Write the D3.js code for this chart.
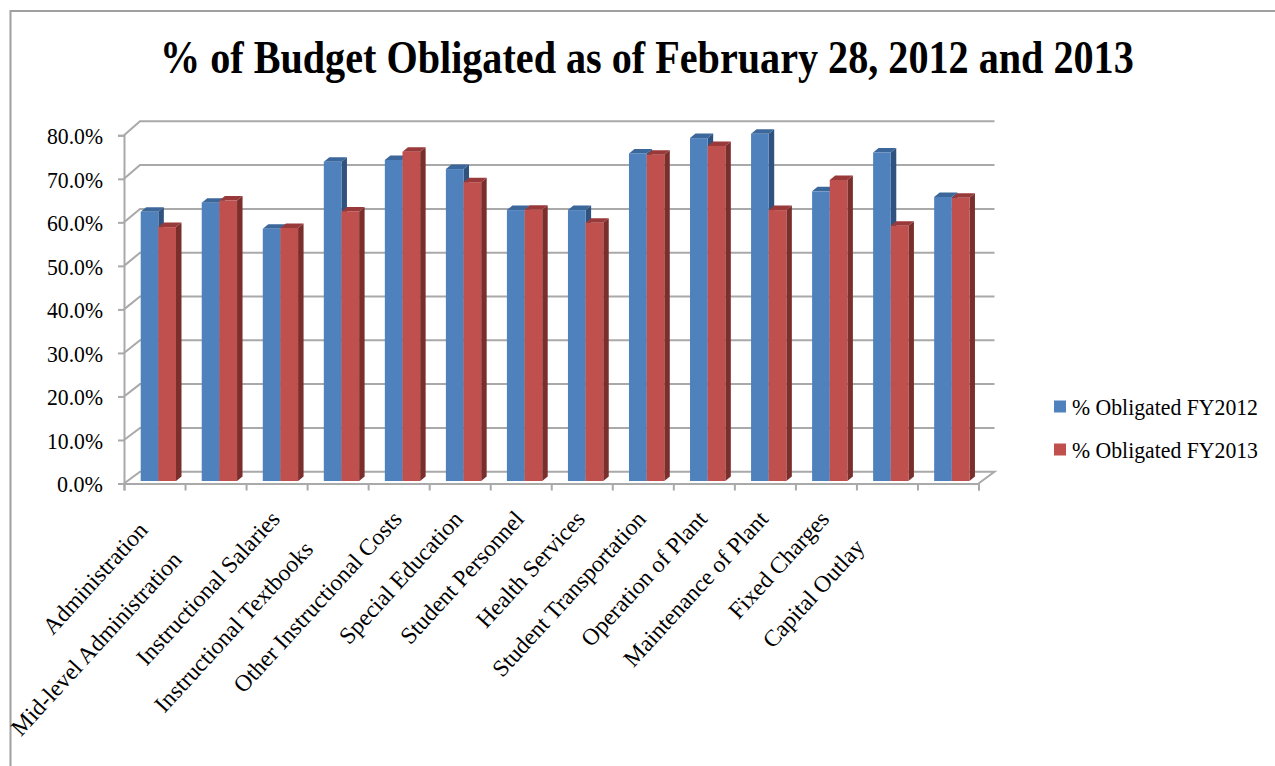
<!DOCTYPE html>
<html>
<head>
<meta charset="utf-8">
<script src="https://cdn.jsdelivr.net/npm/d3@7/dist/d3.min.js"></script>
<style>
  html, body { margin: 0; padding: 0; background: #fff; }
  svg { display: block; }
  text { font-family: "Liberation Serif", "Times New Roman", serif; fill: #000; }
</style>
</head>
<body>
<svg id="chart" width="1275" height="766"></svg>
<script>
const chartTitle = "% of Budget Obligated as of February 28, 2012 and 2013";
const categories = [
  "Administration", "Mid-level Administration", "Instructional Salaries",
  "Instructional Textbooks", "Other Instructional Costs", "Special Education",
  "Student Personnel", "Health Services", "Student Transportation",
  "Operation of Plant", "Maintenance of Plant", "Fixed Charges",
  "Capital Outlay", ""
];
const seriesNames = ["% Obligated FY2012", "% Obligated FY2013"];
const obligated2012 = [61.7, 63.8, 57.8, 73.2, 73.6, 71.5, 62.1, 62.1, 75.1, 78.6, 79.6, 66.4, 75.3, 65.1];
const obligated2013 = [58.2, 64.3, 58.0, 61.8, 75.5, 68.5, 62.2, 59.2, 74.8, 76.8, 62.1, 69.0, 58.5, 64.9];
const yTicks = [0, 10, 20, 30, 40, 50, 60, 70, 80];

// Colours of each series: front face, top face, side face
const faces = [
  { front: "#4f81bd", top: "#3c679b", side: "#30527f" },
  { front: "#c0504d", top: "#99393a", side: "#7a2f2d" }
];
const gridColor = "#a9a9a9";

const svg = d3.select("#chart");

// Outer chart frame, open at the window's right and bottom edges
svg.append("path")
  .attr("d", "M10.5,766V11H1275")
  .attr("fill", "none").attr("stroke", "#a0a0a0").attr("stroke-width", 2);

// Title is set tall and condensed horizontally
const titleNode = svg.append("text")
  .attr("font-size", 47).attr("font-weight", "bold")
  .text(chartTitle);
const titleWidth = titleNode.node().getComputedTextLength();
titleNode.attr("transform", `translate(160,72.5) scale(${974 / titleWidth},1)`);

// Pseudo-3D layout: the front plane holds the axes, the back plane holds the gridlines
const left = 124, right = 978.5;
const depthX = 16;
const yFront = d3.scaleLinear().domain([0, 80]).range([483.5, 135.3]);
const yBack = d3.scaleLinear().domain([0, 80]).range([471.7, 121.3]);
const yBar = d3.scaleLinear().domain([0, 80]).range([481, 132]);
const xBand = d3.scaleBand().domain(d3.range(categories.length)).range([left, right]);
const xEdge = d3.scaleLinear().domain([0, categories.length]).range([left, right]);
const xSeries = d3.scaleBand().domain([0, 1]).range([16.7, 52]);
const barDepthX = 5.5, barDepthY = 4.5;

const grid = svg.append("g").attr("fill", "none").attr("stroke", gridColor).attr("stroke-width", 2);
grid.selectAll("path.grid").data(yTicks).join("path")
  .attr("class", "grid")
  .attr("d", d => d === 0
    ? `M${left},${yFront(d)}L${left + depthX},${yBack(d)}H${right + depthX}L${right},${yFront(d)}`
    : `M${left},${yFront(d)}L${left + depthX},${yBack(d)}H${right + depthX}`);

// Axes are drawn along the front edge of the floor
const yAxis = svg.append("g")
  .attr("transform", `translate(${left},0)`)
  .call(d3.axisLeft(yFront).tickValues(yTicks).tickSize(6).tickPadding(15)
    .tickFormat(d => d3.format(".1f")(d) + "%"));
yAxis.attr("font-family", null);
yAxis.selectAll("path, line").attr("stroke", gridColor).attr("stroke-width", 2);
yAxis.selectAll("text")
  .attr("font-size", 23).attr("dy", "0.36em")
  .attr("textLength", d => d >= 10 ? 56 : 46)
  .attr("lengthAdjust", "spacingAndGlyphs");

const xAxis = svg.append("g")
  .attr("transform", `translate(0,${yFront(0)})`)
  .call(d3.axisBottom(xEdge).ticks(categories.length).tickSize(7).tickFormat(""));
xAxis.selectAll("path, line").attr("stroke", gridColor).attr("stroke-width", 2);

// Each bar is three faces; series are painted in order so the later bar overlaps the earlier side
const seriesValues = [obligated2012, obligated2013];
const groups = svg.selectAll("g.cat").data(categories).join("g").attr("class", "cat")
  .attr("transform", (d, i) => `translate(${xBand(i)},0)`);

groups.each(function (d, i) {
  const g = d3.select(this);
  seriesValues.forEach((vals, s) => {
    const x0 = xSeries(s), x1 = x0 + xSeries.bandwidth();
    const yt = yBar(vals[i]), yb = yBar(0);
    g.append("path").attr("fill", faces[s].side)
      .attr("d", `M${x1},${yt}l${barDepthX},${-barDepthY}V${yb - barDepthY}L${x1},${yb}Z`);
    g.append("path").attr("fill", faces[s].top)
      .attr("d", `M${x0},${yt}l${barDepthX},${-barDepthY}H${x1 + barDepthX}L${x1},${yt}Z`);
    g.append("rect").attr("fill", faces[s].front)
      .attr("x", x0).attr("y", yt).attr("width", x1 - x0).attr("height", yb - yt);
  });
});

// Category labels: slanted, some pushed further down along their own slant to avoid collisions
const labelAngle = -47.5;
const labelPush = [15, 55, 0, 41, 0, 0, 0, 0, 0, 0, 0, 0, 38, 0];
svg.append("g").selectAll("text").data(categories).join("text")
  .attr("text-anchor", "end")
  .attr("font-size", 23.5)
  .attr("transform", (d, i) => {
    const cx = xBand(i) + xBand.bandwidth() / 2 + 4.5;
    return `translate(${cx},520) rotate(${labelAngle}) translate(${-labelPush[i]},0)`;
  })
  .text(d => d);

// Legend
const legend = svg.append("g");
const legendY = d3.scalePoint().domain([0, 1]).range([406.5, 449.5]);
seriesNames.forEach((name, s) => {
  legend.append("rect")
    .attr("x", 1054).attr("y", legendY(s) - 6).attr("width", 12).attr("height", 12)
    .attr("fill", faces[s].front);
  legend.append("text")
    .attr("x", 1072).attr("y", legendY(s) + 8.5)
    .attr("font-size", 23)
    .attr("textLength", 186).attr("lengthAdjust", "spacingAndGlyphs")
    .text(name);
});
</script>
</body>
</html>
